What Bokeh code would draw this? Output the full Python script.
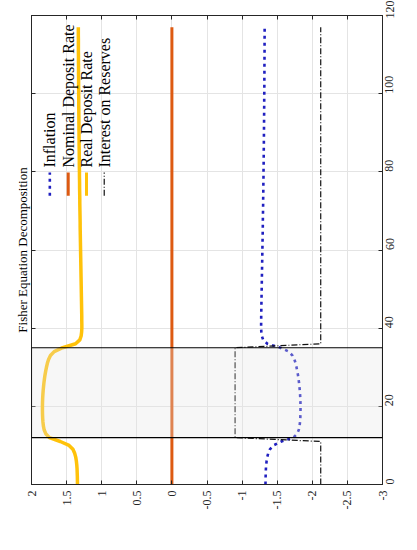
from math import pi
from bokeh.plotting import figure
from bokeh.models import Range1d, FixedTicker, LinearAxis, BoxAnnotation, Label
from bokeh.embed import file_html
from bokeh.resources import INLINE

# ---------------- data ----------------
time = list(range(118))

inflation = [
    -1.333, -1.334, -1.335, -1.337, -1.339, -1.343, -1.349, -1.358, -1.372, -1.396,
    -1.445, -1.560, -1.730, -1.785, -1.808, -1.819, -1.825, -1.829, -1.831, -1.832,
    -1.832, -1.831, -1.829, -1.826, -1.822, -1.817, -1.811, -1.804, -1.796, -1.786,
    -1.775, -1.762, -1.745, -1.718, -1.665, -1.545, -1.360, -1.300, -1.281, -1.274,
    -1.271, -1.271, -1.272, -1.272, -1.273, -1.274, -1.275, -1.276, -1.277, -1.278,
    -1.279, -1.280, -1.281, -1.282, -1.283, -1.284, -1.285, -1.286, -1.287, -1.288,
    -1.289, -1.290, -1.291, -1.292, -1.293, -1.294, -1.295, -1.295, -1.296, -1.297,
    -1.298, -1.299, -1.300, -1.300, -1.301, -1.302, -1.303, -1.303, -1.304, -1.305,
    -1.305, -1.306, -1.307, -1.307, -1.308, -1.308, -1.309, -1.310, -1.310, -1.311,
    -1.311, -1.312, -1.312, -1.313, -1.313, -1.314, -1.314, -1.315, -1.315, -1.315,
    -1.316, -1.316, -1.317, -1.317, -1.317, -1.318, -1.318, -1.318, -1.319, -1.319,
    -1.319, -1.320, -1.320, -1.320, -1.320, -1.321, -1.321, -1.321,
]

real_rate = [
    1.345, 1.346, 1.347, 1.349, 1.351, 1.355, 1.361, 1.370, 1.385, 1.410,
    1.465, 1.590, 1.745, 1.797, 1.820, 1.831, 1.837, 1.841, 1.843, 1.844,
    1.844, 1.843, 1.841, 1.838, 1.834, 1.829, 1.823, 1.816, 1.808, 1.798,
    1.787, 1.774, 1.757, 1.730, 1.677, 1.557, 1.372, 1.312, 1.293, 1.286,
    1.283, 1.283, 1.284, 1.284, 1.285, 1.286, 1.287, 1.288, 1.289, 1.290,
    1.291, 1.292, 1.293, 1.294, 1.295, 1.296, 1.297, 1.298, 1.299, 1.300,
    1.301, 1.302, 1.303, 1.304, 1.305, 1.306, 1.307, 1.307, 1.308, 1.309,
    1.310, 1.311, 1.312, 1.312, 1.313, 1.314, 1.315, 1.315, 1.316, 1.317,
    1.317, 1.318, 1.319, 1.319, 1.320, 1.320, 1.321, 1.322, 1.322, 1.323,
    1.323, 1.324, 1.324, 1.325, 1.325, 1.326, 1.326, 1.327, 1.327, 1.327,
    1.328, 1.328, 1.329, 1.329, 1.329, 1.330, 1.330, 1.330, 1.331, 1.331,
    1.331, 1.332, 1.332, 1.332, 1.332, 1.333, 1.333, 1.333,
]

nominal_rate = [0.0] * 118

reserves_rate = [-2.12] * 12 + [-0.90] * 24 + [-2.12] * 82

shock_start = 12
shock_end = 35

pct_ticks = [2, 1.5, 1, 0.5, 0, -0.5, -1, -1.5, -2, -2.5, -3]
pct_labels = ["2", "1.5", "1", "0.5", "0", "-0.5", "-1", "-1.5", "-2", "-2.5", "-3"]
time_ticks = [0, 20, 40, 60, 80, 100, 120]
time_labels = ["0", "20", "40", "60", "80", "100", "120"]

series_names = ["Inflation", "Nominal Deposit Rate", "Real Deposit Rate", "Interest on Reserves"]
title_text = "Fisher Equation Decomposition"

# ---------------- styles ----------------
FONT = "Liberation Serif"
AX_COL = "#262626"
GRID_COL = "#e4e4e4"
C_INF = "#2020c0"
C_NOM = "#dd5a12"
C_REAL = "#ffc20a"
C_RES = "#111111"
DASH_INF = "3 4"
DASH_RES = "6 2 1 2"

p = figure(width=417, height=550,
           x_range=Range1d(2, -3), y_range=Range1d(0, 120),
           x_axis_location="below", y_axis_location="right",
           output_backend="svg", toolbar_location=None,
           title=title_text, title_location="left",
           min_border_left=31, min_border_right=35,
           min_border_top=15, min_border_bottom=66)

p.background_fill_color = "white"
p.border_fill_color = "white"
p.outline_line_color = AX_COL
p.outline_line_width = 1

p.title.text_font = FONT
p.title.text_font_size = "13px"
p.title.text_font_style = "normal"
p.title.text_color = "#000000"
p.title.align = "center"
p.title.standoff = 4

# main axes
xa = p.xaxis[0]
xa.ticker = FixedTicker(ticks=pct_ticks)
xa.major_label_overrides = {t: l for t, l in zip(pct_ticks, pct_labels)}
xa.major_label_standoff = 6
ya = p.yaxis[0]
ya.ticker = FixedTicker(ticks=time_ticks)
ya.major_label_overrides = {t: l for t, l in zip(time_ticks, time_labels)}
ya.major_label_standoff = 7

for ax in (xa, ya):
    ax.major_label_orientation = pi / 2
    ax.major_label_text_font = FONT
    ax.major_label_text_font_size = "12px"
    ax.major_label_text_color = AX_COL
    ax.axis_line_color = AX_COL
    ax.major_tick_line_color = AX_COL
    ax.major_tick_in = 4
    ax.major_tick_out = 0
    ax.minor_tick_line_color = None

# mirrored axes (ticks only)
top_ax = LinearAxis(ticker=FixedTicker(ticks=pct_ticks))
left_ax = LinearAxis(ticker=FixedTicker(ticks=time_ticks))
for ax, ticks in ((top_ax, pct_ticks), (left_ax, time_ticks)):
    ax.major_label_overrides = {t: "" for t in ticks}
    ax.major_label_text_font_size = "1px"
    ax.major_label_standoff = 0
    ax.axis_line_color = AX_COL
    ax.major_tick_line_color = AX_COL
    ax.major_tick_in = 4
    ax.major_tick_out = 0
    ax.minor_tick_line_color = None
p.add_layout(top_ax, "above")
p.add_layout(left_ax, "left")

p.xgrid.ticker = FixedTicker(ticks=pct_ticks)
p.ygrid.ticker = FixedTicker(ticks=time_ticks)
p.xgrid.grid_line_color = GRID_COL
p.ygrid.grid_line_color = GRID_COL

# ---------------- series ----------------
p.line(inflation, time, line_color=C_INF, line_width=2.6, line_dash=DASH_INF, line_join="round")
p.line(nominal_rate, time, line_color=C_NOM, line_width=3)
p.line(real_rate, time, line_color=C_REAL, line_width=3.5, line_join="round")
p.line(reserves_rate, time, line_color=C_RES, line_width=1.2, line_dash=DASH_RES)

# shaded shock period (drawn above lines, semi-transparent)
p.add_layout(BoxAnnotation(bottom=shock_start, top=shock_end,
                           fill_color="#e6e6e6", fill_alpha=0.3,
                           line_color="#000000", line_alpha=1.0, line_width=1.1))

# ---------------- legend (rotated) ----------------
leg_x = [1.739, 1.477, 1.2165, 0.964]
leg_y0, leg_y1, leg_text_y = 73.9, 79.8, 81.1
leg_styles = [
    dict(line_color=C_INF, line_width=2.6, line_dash=DASH_INF),
    dict(line_color=C_NOM, line_width=3),
    dict(line_color=C_REAL, line_width=3),
    dict(line_color=C_RES, line_width=1.2, line_dash=DASH_RES),
]
for xv, name, st in zip(leg_x, series_names, leg_styles):
    p.line([xv, xv], [leg_y0, leg_y1], **st)
    p.add_layout(Label(x=xv, y=leg_text_y, text=name, angle=pi / 2,
                       text_align="left", text_baseline="middle",
                       text_font=FONT, text_font_size="16px", text_color="#000000"))

# axis labels (rotated like the rest of the figure)
p.add_layout(Label(x=-0.5, y=-8.3, text="%", angle=pi / 2,
                   text_align="center", text_baseline="middle",
                   text_font=FONT, text_font_size="11px", text_color="#5a5a5a"))
p.add_layout(Label(x=-3.40, y=60, text="time", angle=pi / 2,
                   text_align="center", text_baseline="middle",
                   text_font=FONT, text_font_size="11px", text_color="#5a5a5a"))

open("out.html", "w").write(file_html(p, INLINE))
